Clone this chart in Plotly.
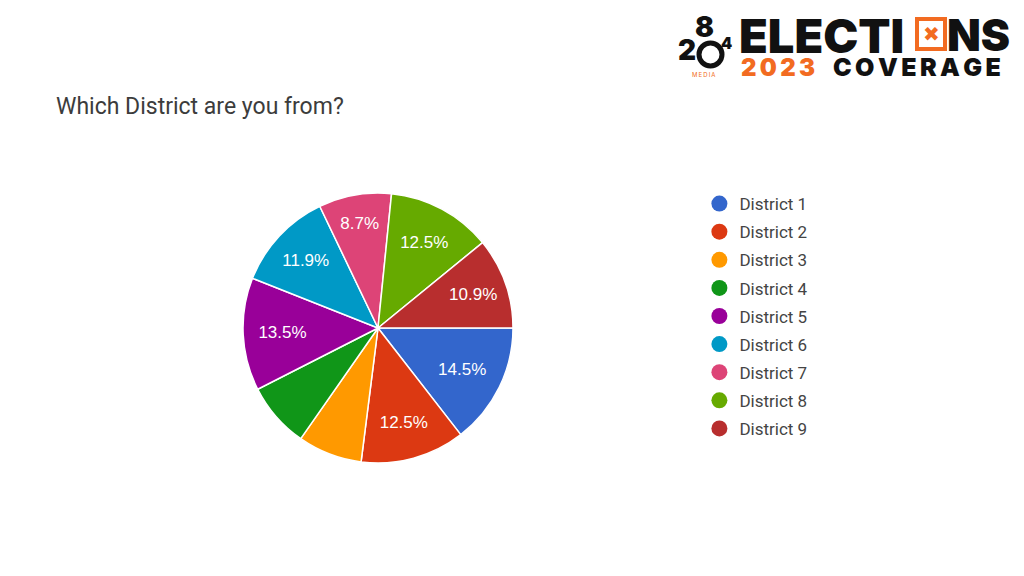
import plotly.graph_objects as go

districts = ["District 1", "District 2", "District 3", "District 4", "District 5",
             "District 6", "District 7", "District 8", "District 9"]
shares = [14.5, 12.5, 7.7, 7.8, 13.5, 11.9, 8.7, 12.5, 10.9]
show_label = [True, True, False, False, True, True, True, True, True]
colors = ["#3366cc", "#dc3912", "#ff9900", "#109618", "#990099",
          "#0099c6", "#dd4477", "#66aa00", "#b82e2e"]

title_text = "Which District are you from?"
ORANGE = "#f26b21"
HEAVY = "Inter, DejaVu Sans, sans-serif"
TS = "\u2009"  # thin space used for letter spacing in the logo

fig = go.Figure()
fig.add_trace(go.Pie(
    labels=districts, values=shares, sort=False, direction="clockwise", rotation=90,
    marker=dict(colors=colors, line=dict(color="white", width=1.5)),
    texttemplate=["%{percent:.1%}" if s else "" for s in show_label],
    textposition="inside", insidetextorientation="horizontal",
    textfont=dict(family="Liberation Sans, Arial, sans-serif", size=17, color="white"),
    domain=dict(x=[0.2373, 0.5010], y=[0.1962, 0.6649]),
    showlegend=False, hoverinfo="label+percent",
))

for i, (d, c) in enumerate(zip(districts, colors)):
    fig.add_trace(go.Scatter(
        x=[None], y=[None], mode="markers", name=d, legendgroup=f"g{i}",
        marker=dict(color=c, size=16, symbol="circle"), showlegend=True,
    ))

fig.update_layout(
    width=1024, height=576, margin=dict(l=0, r=0, t=0, b=0),
    paper_bgcolor="white", plot_bgcolor="white",
    xaxis=dict(visible=False), yaxis=dict(visible=False),
    legend=dict(x=0.683, xanchor="left", y=0.677, yanchor="top",
                font=dict(family="Roboto, Arial, sans-serif", size=17, color="#444444"),
                tracegroupgap=3, itemsizing="trace", bgcolor="rgba(0,0,0,0)"),
    font=dict(family="Roboto, Arial, sans-serif"),
)

annotations = [
    dict(text=title_text, x=54, y=106, xanchor="left", yanchor="middle",
         font=dict(family="Roboto, Arial, sans-serif", size=23, color="#3c3c3c")),
    # logo
    dict(text="ELECTI", x=737, y=35, xanchor="left", yanchor="middle", height=40,
         font=dict(family=HEAVY, size=47, color="#111111", weight=900)),
    dict(text="NS", x=945, y=35, xanchor="left", yanchor="middle", height=40,
         font=dict(family=HEAVY, size=44, color="#111111", weight=900)),
    dict(text="\u2716", x=931, y=34, xanchor="center", yanchor="middle",
         font=dict(family="DejaVu Sans, sans-serif", size=20, color=ORANGE)),
    dict(text=TS.join("2023"), x=739, y=67, xanchor="left", yanchor="middle", height=22,
         font=dict(family=HEAVY, size=24, color=ORANGE, weight=900)),
    dict(text=TS.join("COVERAGE"), x=831, y=67, xanchor="left", yanchor="middle", height=22,
         font=dict(family=HEAVY, size=25, color="#111111", weight=900)),
    dict(text="8", x=704, y=27, xanchor="center", yanchor="middle",
         font=dict(family=HEAVY, size=28, color="#111111", weight=900)),
    dict(text="2", x=687, y=50, xanchor="center", yanchor="middle",
         font=dict(family=HEAVY, size=28, color="#111111", weight=900)),
    dict(text="4", x=726, y=43, xanchor="center", yanchor="middle",
         font=dict(family=HEAVY, size=16, color="#111111", weight=900)),
    dict(text=TS.join("MEDIA"), x=703, y=74, xanchor="center", yanchor="middle",
         font=dict(family=HEAVY, size=6, color=ORANGE)),
]
for a in annotations:
    a.update(xref="paper", yref="paper", showarrow=False)
    a["x"] = a["x"] / 1024
    a["y"] = 1 - a["y"] / 576
fig.update_layout(annotations=annotations)

fig.update_layout(shapes=[
    dict(type="rect", xref="paper", yref="paper",
         x0=917 / 1024, x1=945 / 1024, y0=1 - 49 / 576, y1=1 - 19 / 576,
         line=dict(color=ORANGE, width=4), fillcolor="white"),
    dict(type="circle", xref="paper", yref="paper",
         x0=699 / 1024, x1=722 / 1024, y0=1 - 66 / 576, y1=1 - 43 / 576,
         line=dict(color="#111111", width=5)),
])

fig.write_html("out.html", config={"displayModeBar": False},
               post_script="document.body.style.margin='0px';")
